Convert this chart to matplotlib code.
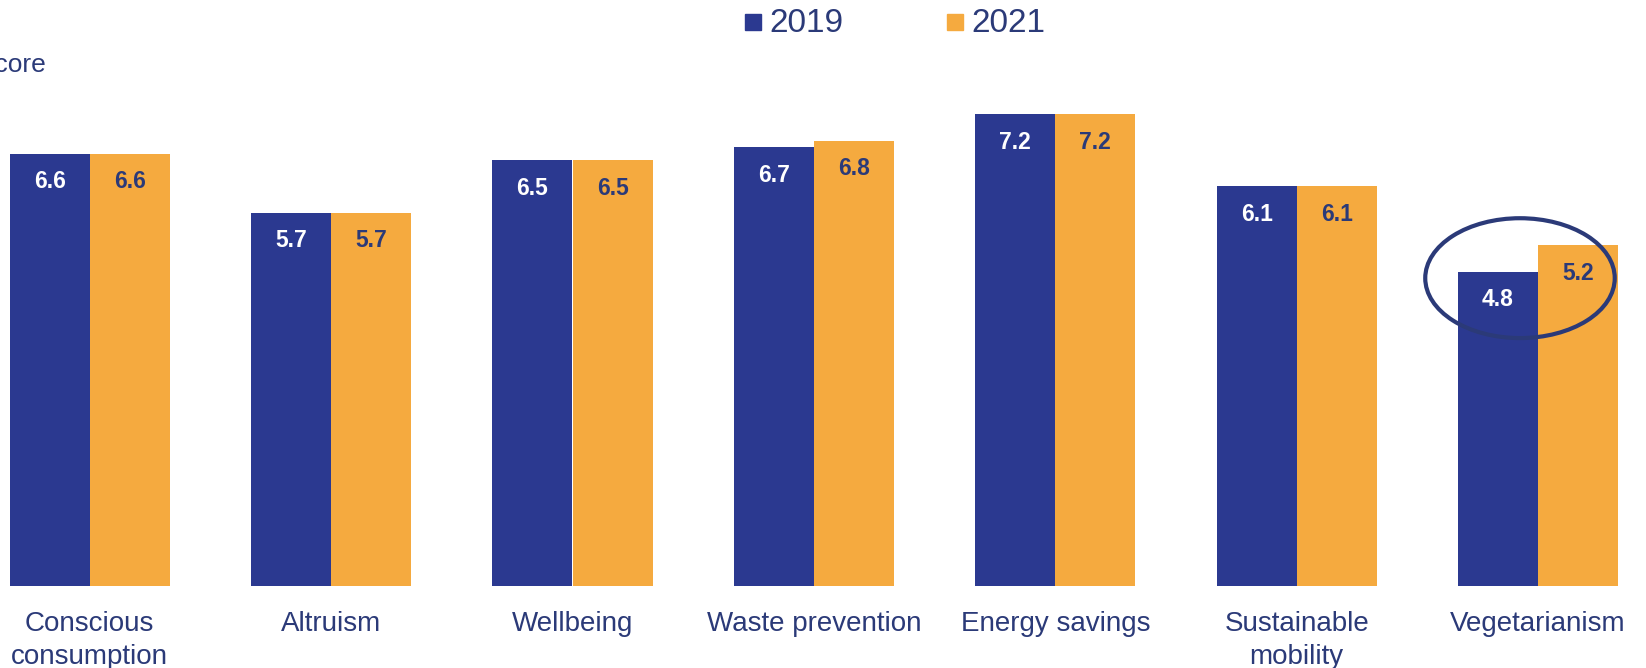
import numpy as np
import matplotlib.pyplot as plt
from matplotlib.patches import Ellipse

categories = ["Conscious\nconsumption", "Altruism", "Wellbeing", "Waste prevention",
              "Energy savings", "Sustainable\nmobility", "Vegetarianism"]
score_2019 = [6.6, 5.7, 6.5, 6.7, 7.2, 6.1, 4.8]
score_2021 = [6.6, 5.7, 6.5, 6.8, 7.2, 6.1, 5.2]
years = ["2019", "2021"]

BLUE = "#2b3990"
ORANGE = "#f5aa3f"
NAVY = "#2b3a78"
FONT = "Liberation Sans"

W, H = 1646, 668
fig = plt.figure(figsize=(W / 100, H / 100), dpi=100)
# axes spans the full width; baseline sits ~586 px from the top
ax = fig.add_axes([0, 1 - 586 / H, 1, 586 / H])

x = np.arange(len(categories))
width = 0.332
b1 = ax.bar(x - width / 2, score_2019, width, color=BLUE, label=years[0])
b2 = ax.bar(x + width / 2, score_2021, width, color=ORANGE, label=years[1])

ax.set_xlim(-89.7 / 241.4, (W - 89.7) / 241.4)
ax.set_ylim(0, 586 / 65.5)
for s in ax.spines.values():
    s.set_visible(False)
ax.set_yticks([])
ax.set_xticks([])

# value labels inside the top of each bar
for bars, col in ((b1, "white"), (b2, NAVY)):
    for rect, v in zip(bars, bars.datavalues):
        ax.annotate(f"{v:.1f}", (rect.get_x() + rect.get_width() / 2, v),
                    xytext=(0, -28), textcoords="offset pixels",
                    ha="center", va="center", color=col, fontsize=16.5,
                    family=FONT, fontweight="bold")

# category labels below the baseline
for xi, lab in zip(x, categories):
    ax.annotate(lab, (xi, 0), xycoords=("data", "axes fraction"),
                xytext=(0, -25), textcoords="offset pixels",
                ha="center", va="top", color=NAVY, fontsize=20,
                family=FONT, linespacing=1.37)

# highlight around the vegetarianism bars
ax.add_patch(Ellipse((5.925, 4.70), 0.785, 1.83, fill=False, edgecolor=NAVY, lw=3))

# legend drawn by hand across the top
for xs, lab, col in ((745, years[0], BLUE), (947, years[1], ORANGE)):
    fig.patches.append(plt.Rectangle((xs / W, 1 - 30 / H), 16 / W, 16 / H,
                                     transform=fig.transFigure, color=col))
    fig.text((xs + 24) / W, 1 - 24 / H, lab, color=NAVY, fontsize=24,
             family=FONT, va="center", ha="left")

fig.text(47 / W, 1 - 65 / H, "Score", color=NAVY, fontsize=19, family=FONT,
         ha="right", va="center")

fig.savefig("out.png", dpi=100)
